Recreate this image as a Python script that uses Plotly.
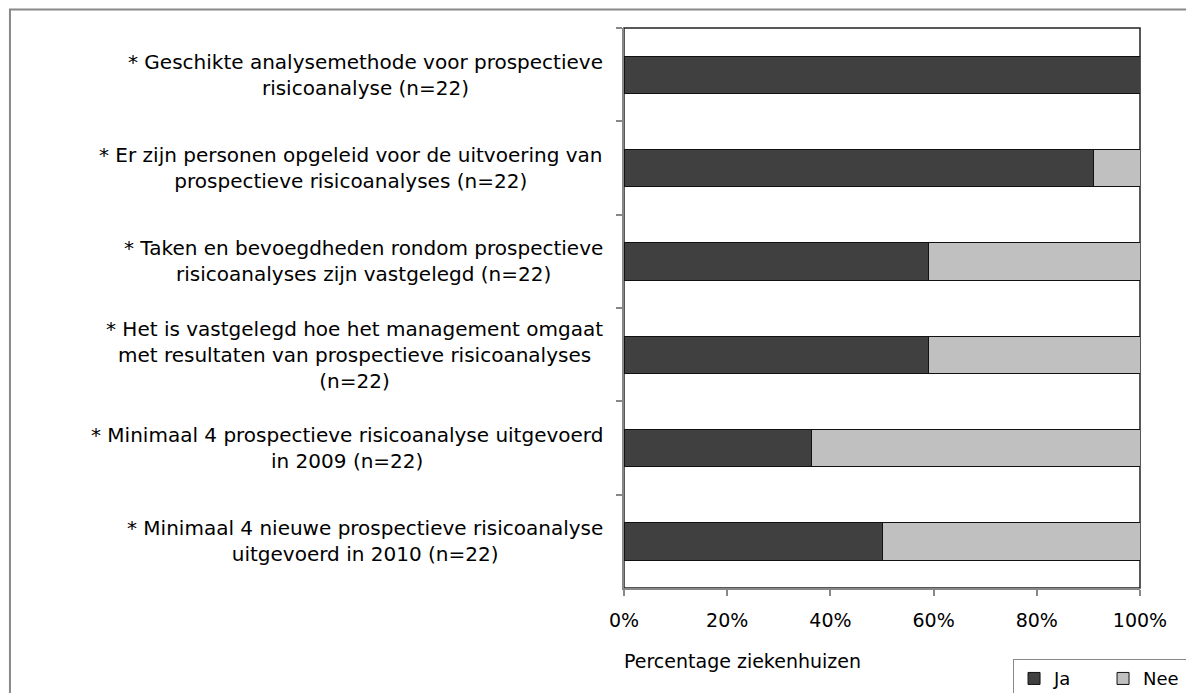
import plotly.graph_objects as go

categories = [
    "* Geschikte analysemethode voor prospectieve<br>risicoanalyse (n=22)",
    "* Er zijn personen opgeleid voor de uitvoering van<br>prospectieve risicoanalyses (n=22)",
    "* Taken en bevoegdheden rondom prospectieve<br>risicoanalyses zijn vastgelegd (n=22)",
    "* Het is vastgelegd hoe het management omgaat<br>met resultaten van prospectieve risicoanalyses<br>(n=22)",
    "* Minimaal 4 prospectieve risicoanalyse uitgevoerd<br>in 2009 (n=22)",
    "* Minimaal 4 nieuwe prospectieve risicoanalyse<br>uitgevoerd in 2010 (n=22)",
]
ja = [100.0, 90.9, 59.1, 59.1, 36.4, 50.0]
nee = [0.0, 9.1, 40.9, 40.9, 63.6, 50.0]
x_ticks = [0, 20, 40, 60, 80, 100]
x_ticklabels = ["0%", "20%", "40%", "60%", "80%", "100%"]

FONT = "DejaVu Sans"
fig = go.Figure()
fig.add_trace(go.Bar(y=categories, x=ja, orientation="h", name="Ja",
                     marker=dict(color="#404040", line=dict(color="#111111", width=1))))
fig.add_trace(go.Bar(y=categories, x=nee, orientation="h", name="Nee",
                     marker=dict(color="#c0c0c0", line=dict(color="#111111", width=1))))

for c in categories:
    fig.add_annotation(x=0, xref="paper", y=c, yref="y", text=c, showarrow=False,
                       xanchor="right", xshift=-19, align="center",
                       font=dict(family=FONT, size=20, color="#000000"))

fig.add_annotation(x=0, xref="paper", y=0, yref="paper", yshift=-73, text="Percentage ziekenhuizen",
                   showarrow=False, xanchor="left", yanchor="middle", xshift=-2,
                   font=dict(family=FONT, size=19, color="#000000"))

# plot area border
fig.add_shape(type="rect", xref="paper", yref="paper", x0=0, x1=1, y0=0, y1=1,
              line=dict(color="#222222", width=1.5), layer="below")
# outer chart border
fig.add_shape(type="rect", xref="paper", yref="paper", x0=-1.190, x1=1.3, y0=-0.3, y1=1.033,
              line=dict(color="#888888", width=2), layer="below")

fig.update_layout(
    barmode="stack", bargap=0.6,
    width=1186, height=685,
    margin=dict(l=616, r=54, t=20, b=105),
    paper_bgcolor="white", plot_bgcolor="white",
    font=dict(family=FONT, size=19, color="#000000"),
    showlegend=True,
    legend=dict(orientation="h", xref="container", yref="container", x=0.847, y=0.05,
                xanchor="left", yanchor="top", bordercolor="#888888", borderwidth=1.5,
                font=dict(family=FONT, size=18), itemwidth=30, traceorder="normal",
                entrywidth=44, entrywidthmode="pixels"),
    xaxis=dict(range=[0, 100], tickvals=x_ticks, ticktext=x_ticklabels, showgrid=False,
               zeroline=False, showline=True, linecolor="#888888", linewidth=2,
               ticks="outside", ticklen=6, tickcolor="#888888", tickwidth=1.5,
               ticklabelstandoff=8, tickfont=dict(family=FONT, size=19)),
    yaxis=dict(autorange="reversed", showticklabels=False, tickson="boundaries",
               ticks="outside", ticklen=6, tickcolor="#888888", tickwidth=1.5,
               showgrid=False, showline=True, linecolor="#888888", linewidth=2, zeroline=False),
)

fig.write_html("out.html")
